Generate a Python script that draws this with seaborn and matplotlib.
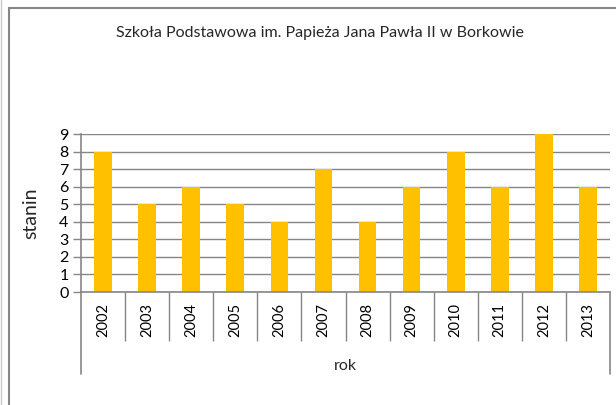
"""Stanin results by year - bar chart, Excel style."""

import numpy as np
import pandas as pd
import matplotlib
matplotlib.use("Agg")
import matplotlib.pyplot as plt
import matplotlib.transforms as mtrans
from matplotlib.patches import Rectangle
from matplotlib.lines import Line2D
import seaborn as sns

# data
years = ['2002', '2003', '2004', '2005', '2006', '2007',
         '2008', '2009', '2010', '2011', '2012', '2013']
stanin = [8, 5, 6, 5, 4, 7, 4, 6, 8, 6, 9, 6]
title = 'Szkoła Podstawowa im. Papieża Jana Pawła II w Borkowie'

df = pd.DataFrame({'rok': years, 'stanin': stanin})

sns.set_theme(style='white')
plt.rcParams['font.family'] = ['Lato', 'DejaVu Sans']

grey = '#868686'
fig = plt.figure(figsize=(6.16, 4.05), dpi=100)
ax = fig.add_axes([81 / 616, 113 / 405, 529 / 616, 158 / 405])

sns.barplot(data=df, x='rok', y='stanin', color='#FFC000', width=0.4,
            saturation=1, linewidth=0, ax=ax)
for p in ax.patches:
    p.set_zorder(5)
    p.set_edgecolor('none')

ax.set_xlim(-0.5, len(years) - 0.5)
ax.set_ylim(0, 9)
ax.set_yticks(np.arange(0, 10))
ax.set_axisbelow(True)
ax.yaxis.grid(True, color=grey, linewidth=1.0)
ax.tick_params(axis='y', which='major', left=True, length=6, width=1,
               color=grey, pad=3, labelsize=11.5, labelcolor='black')

# category labels rotated, with separators between categories
ax.tick_params(axis='x', which='major', length=0, pad=8, labelsize=10.5,
               labelrotation=90, labelcolor='black')
bounds = np.arange(len(years) + 1) - 0.5
ax.set_xticks(bounds[1:-1], minor=True)
ax.tick_params(axis='x', which='minor', bottom=True, length=35, width=1,
               color=grey)

for s in ['top', 'right']:
    ax.spines[s].set_visible(False)
for s in ['left', 'bottom']:
    ax.spines[s].set_color(grey)
    ax.spines[s].set_linewidth(1.2)
    ax.spines[s].set_zorder(6)

# outer lines of the category axis extend lower
trans = mtrans.blended_transform_factory(ax.transData, ax.transAxes)
for xb in [bounds[0], bounds[-1]]:
    ax.add_line(Line2D([xb, xb], [0, -82 / 158], transform=trans,
                       color=grey, linewidth=1.2, clip_on=False))

ax.set_xlabel('rok', fontsize=11.5, labelpad=0)
ax.xaxis.set_label_coords(0.5, -67 / 158)
ax.set_ylabel('stanin', fontsize=14, labelpad=14)

fig.text(320 / 616, 1 - 33 / 405, title, ha='center', va='center',
         fontsize=11.5)

# chart frame
fig.patches.append(Rectangle((9 / 616, -0.1), 1.0, 1 - 8 / 405 + 0.1,
                             transform=fig.transFigure, fill=False,
                             edgecolor=grey, linewidth=1.5))
fig.lines.append(Line2D([0.5 / 616, 0.5 / 616], [0, 1],
                        transform=fig.transFigure, color='#c8c8c8',
                        linewidth=1))

fig.savefig('out.png', dpi=100)
